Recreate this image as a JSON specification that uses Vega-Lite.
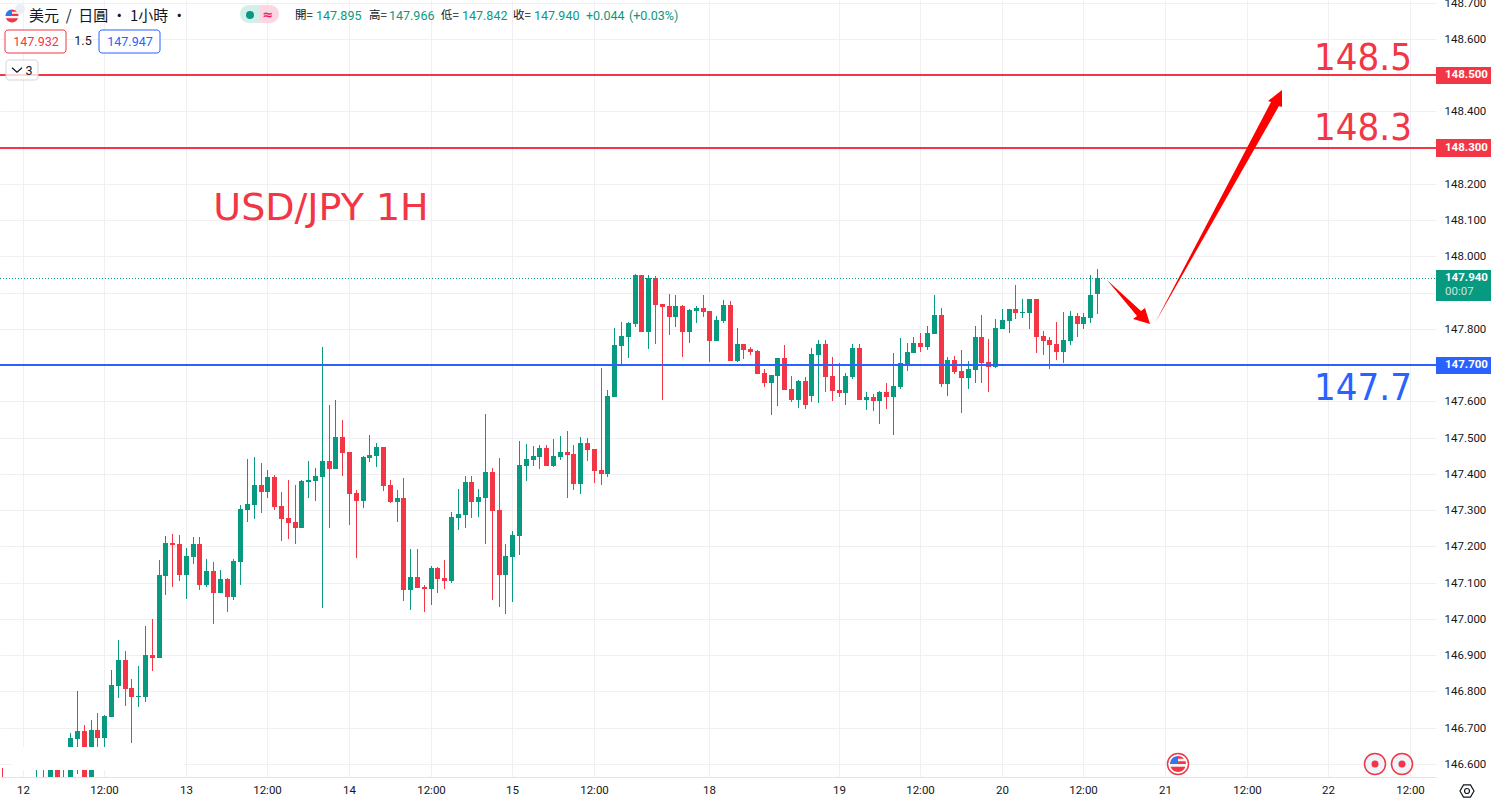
{
  "$schema": "https://vega.github.io/schema/vega-lite/v6.json",
  "description": "USD/JPY 1H candlesticks with resistance and support levels.",
  "width": 1436,
  "height": 777,
  "autosize": "none",
  "padding": {"left": 0, "top": 0, "right": 55, "bottom": 26},
  "background": "#ffffff",
  "config": {
    "view": {"stroke": null},
    "text": {"font": "Roboto"},
    "axisY": {
      "grid": true,
      "gridColor": "#f0f0f3",
      "ticks": false,
      "domain": false,
      "labelFont": "Roboto",
      "labelFontSize": 11.5,
      "labelColor": "#131722",
      "labelPadding": 8,
      "labelOverlap": false,
      "labelBound": false
    }
  },
  "datasets": {
    "candles": [
      {"b":0,"o":146.555,"h":146.588,"l":146.52,"c":146.54},
      {"b":5,"o":146.53,"h":146.59,"l":146.52,"c":146.54},
      {"b":6,"o":146.54,"h":146.59,"l":146.52,"c":146.53},
      {"b":7,"o":146.54,"h":146.62,"l":146.52,"c":146.6},
      {"b":8,"o":146.6,"h":146.62,"l":146.52,"c":146.54},
      {"b":9,"o":146.54,"h":146.59,"l":146.52,"c":146.53},
      {"b":10,"o":146.555,"h":146.685,"l":146.541,"c":146.671},
      {"b":11,"o":146.668,"h":146.8,"l":146.572,"c":146.69},
      {"b":12,"o":146.69,"h":146.707,"l":146.541,"c":146.555},
      {"b":13,"o":146.555,"h":146.721,"l":146.541,"c":146.693},
      {"b":14,"o":146.693,"h":146.74,"l":146.638,"c":146.671},
      {"b":15,"o":146.671,"h":146.735,"l":146.644,"c":146.732},
      {"b":16,"o":146.729,"h":146.859,"l":146.729,"c":146.817},
      {"b":17,"o":146.815,"h":146.941,"l":146.782,"c":146.886},
      {"b":18,"o":146.886,"h":146.911,"l":146.76,"c":146.806},
      {"b":19,"o":146.809,"h":146.834,"l":146.657,"c":146.784},
      {"b":20,"o":146.784,"h":146.87,"l":146.757,"c":146.787},
      {"b":21,"o":146.784,"h":146.98,"l":146.77,"c":146.9},
      {"b":22,"o":146.9,"h":147.0,"l":146.856,"c":146.892},
      {"b":23,"o":146.892,"h":147.162,"l":146.892,"c":147.121},
      {"b":24,"o":147.118,"h":147.228,"l":147.066,"c":147.209},
      {"b":25,"o":147.209,"h":147.234,"l":147.088,"c":147.203},
      {"b":26,"o":147.206,"h":147.231,"l":147.104,"c":147.121},
      {"b":27,"o":147.121,"h":147.195,"l":147.055,"c":147.173},
      {"b":28,"o":147.17,"h":147.226,"l":147.151,"c":147.206},
      {"b":29,"o":147.206,"h":147.226,"l":147.079,"c":147.093},
      {"b":30,"o":147.093,"h":147.165,"l":147.088,"c":147.132},
      {"b":31,"o":147.132,"h":147.157,"l":146.986,"c":147.071},
      {"b":32,"o":147.071,"h":147.134,"l":147.071,"c":147.11},
      {"b":33,"o":147.11,"h":147.112,"l":147.019,"c":147.06},
      {"b":34,"o":147.06,"h":147.165,"l":147.052,"c":147.159},
      {"b":35,"o":147.157,"h":147.314,"l":147.093,"c":147.303},
      {"b":36,"o":147.3,"h":147.441,"l":147.267,"c":147.317},
      {"b":37,"o":147.314,"h":147.446,"l":147.275,"c":147.369},
      {"b":38,"o":147.369,"h":147.43,"l":147.292,"c":147.35},
      {"b":39,"o":147.35,"h":147.41,"l":147.333,"c":147.391},
      {"b":40,"o":147.391,"h":147.397,"l":147.3,"c":147.308},
      {"b":41,"o":147.311,"h":147.35,"l":147.215,"c":147.275},
      {"b":42,"o":147.278,"h":147.383,"l":147.22,"c":147.264},
      {"b":43,"o":147.267,"h":147.369,"l":147.206,"c":147.25},
      {"b":44,"o":147.25,"h":147.383,"l":147.25,"c":147.38},
      {"b":45,"o":147.377,"h":147.435,"l":147.333,"c":147.383},
      {"b":46,"o":147.38,"h":147.416,"l":147.325,"c":147.394},
      {"b":47,"o":147.391,"h":147.75,"l":147.03,"c":147.435},
      {"b":48,"o":147.435,"h":147.59,"l":147.25,"c":147.413},
      {"b":49,"o":147.413,"h":147.603,"l":147.413,"c":147.501},
      {"b":50,"o":147.501,"h":147.548,"l":147.394,"c":147.457},
      {"b":51,"o":147.46,"h":147.46,"l":147.259,"c":147.344},
      {"b":52,"o":147.347,"h":147.355,"l":147.168,"c":147.325},
      {"b":53,"o":147.325,"h":147.449,"l":147.306,"c":147.446},
      {"b":54,"o":147.443,"h":147.507,"l":147.432,"c":147.452},
      {"b":55,"o":147.449,"h":147.485,"l":147.419,"c":147.474},
      {"b":56,"o":147.474,"h":147.474,"l":147.352,"c":147.366},
      {"b":57,"o":147.369,"h":147.383,"l":147.319,"c":147.322},
      {"b":58,"o":147.322,"h":147.355,"l":147.267,"c":147.333},
      {"b":59,"o":147.333,"h":147.388,"l":147.049,"c":147.079},
      {"b":60,"o":147.079,"h":147.193,"l":147.024,"c":147.115},
      {"b":61,"o":147.115,"h":147.193,"l":147.085,"c":147.085},
      {"b":62,"o":147.088,"h":147.093,"l":147.019,"c":147.082},
      {"b":63,"o":147.082,"h":147.146,"l":147.038,"c":147.14},
      {"b":64,"o":147.14,"h":147.143,"l":147.071,"c":147.11},
      {"b":65,"o":147.112,"h":147.162,"l":147.082,"c":147.104},
      {"b":66,"o":147.104,"h":147.295,"l":147.099,"c":147.281},
      {"b":67,"o":147.278,"h":147.358,"l":147.245,"c":147.289},
      {"b":68,"o":147.286,"h":147.394,"l":147.25,"c":147.377},
      {"b":69,"o":147.377,"h":147.394,"l":147.278,"c":147.322},
      {"b":70,"o":147.322,"h":147.358,"l":147.281,"c":147.336},
      {"b":71,"o":147.333,"h":147.565,"l":147.206,"c":147.405},
      {"b":72,"o":147.405,"h":147.416,"l":147.052,"c":147.297},
      {"b":73,"o":147.3,"h":147.443,"l":147.032,"c":147.121},
      {"b":74,"o":147.121,"h":147.206,"l":147.013,"c":147.173},
      {"b":75,"o":147.17,"h":147.242,"l":147.046,"c":147.231},
      {"b":76,"o":147.228,"h":147.49,"l":147.176,"c":147.424},
      {"b":77,"o":147.421,"h":147.482,"l":147.38,"c":147.441},
      {"b":78,"o":147.438,"h":147.477,"l":147.421,"c":147.449},
      {"b":79,"o":147.446,"h":147.479,"l":147.413,"c":147.471},
      {"b":80,"o":147.471,"h":147.479,"l":147.421,"c":147.421},
      {"b":81,"o":147.421,"h":147.496,"l":147.419,"c":147.449},
      {"b":82,"o":147.446,"h":147.504,"l":147.438,"c":147.46},
      {"b":83,"o":147.46,"h":147.518,"l":147.333,"c":147.452},
      {"b":84,"o":147.455,"h":147.479,"l":147.355,"c":147.372},
      {"b":85,"o":147.372,"h":147.501,"l":147.344,"c":147.485},
      {"b":86,"o":147.485,"h":147.499,"l":147.435,"c":147.466},
      {"b":87,"o":147.468,"h":147.468,"l":147.375,"c":147.408},
      {"b":88,"o":147.41,"h":147.692,"l":147.369,"c":147.399},
      {"b":89,"o":147.399,"h":147.631,"l":147.391,"c":147.615},
      {"b":90,"o":147.612,"h":147.802,"l":147.612,"c":147.755},
      {"b":91,"o":147.752,"h":147.819,"l":147.7,"c":147.78},
      {"b":92,"o":147.777,"h":147.819,"l":147.719,"c":147.816},
      {"b":93,"o":147.813,"h":147.951,"l":147.805,"c":147.948},
      {"b":94,"o":147.948,"h":147.948,"l":147.791,"c":147.791},
      {"b":95,"o":147.791,"h":147.948,"l":147.744,"c":147.94},
      {"b":96,"o":147.94,"h":147.946,"l":147.758,"c":147.866},
      {"b":97,"o":147.868,"h":147.868,"l":147.603,"c":147.86},
      {"b":98,"o":147.863,"h":147.896,"l":147.783,"c":147.832},
      {"b":99,"o":147.832,"h":147.893,"l":147.805,"c":147.863},
      {"b":100,"o":147.863,"h":147.866,"l":147.722,"c":147.791},
      {"b":101,"o":147.791,"h":147.855,"l":147.761,"c":147.852},
      {"b":102,"o":147.849,"h":147.863,"l":147.816,"c":147.857},
      {"b":103,"o":147.857,"h":147.893,"l":147.832,"c":147.846},
      {"b":104,"o":147.849,"h":147.849,"l":147.708,"c":147.766},
      {"b":105,"o":147.766,"h":147.835,"l":147.766,"c":147.824},
      {"b":106,"o":147.821,"h":147.879,"l":147.816,"c":147.866},
      {"b":107,"o":147.866,"h":147.877,"l":147.711,"c":147.711},
      {"b":108,"o":147.711,"h":147.802,"l":147.708,"c":147.758},
      {"b":109,"o":147.758,"h":147.758,"l":147.717,"c":147.741},
      {"b":110,"o":147.744,"h":147.75,"l":147.728,"c":147.736},
      {"b":111,"o":147.739,"h":147.741,"l":147.675,"c":147.675},
      {"b":112,"o":147.678,"h":147.689,"l":147.639,"c":147.65},
      {"b":113,"o":147.65,"h":147.672,"l":147.562,"c":147.672},
      {"b":114,"o":147.67,"h":147.719,"l":147.587,"c":147.719},
      {"b":115,"o":147.719,"h":147.755,"l":147.631,"c":147.631},
      {"b":116,"o":147.634,"h":147.67,"l":147.598,"c":147.603},
      {"b":117,"o":147.603,"h":147.659,"l":147.581,"c":147.656},
      {"b":118,"o":147.656,"h":147.667,"l":147.579,"c":147.59},
      {"b":119,"o":147.615,"h":147.747,"l":147.598,"c":147.73},
      {"b":120,"o":147.728,"h":147.769,"l":147.595,"c":147.758},
      {"b":121,"o":147.758,"h":147.769,"l":147.626,"c":147.667},
      {"b":122,"o":147.67,"h":147.722,"l":147.601,"c":147.628},
      {"b":123,"o":147.631,"h":147.706,"l":147.612,"c":147.623},
      {"b":124,"o":147.623,"h":147.678,"l":147.59,"c":147.67},
      {"b":125,"o":147.667,"h":147.758,"l":147.661,"c":147.747},
      {"b":126,"o":147.747,"h":147.758,"l":147.603,"c":147.603},
      {"b":127,"o":147.603,"h":147.626,"l":147.576,"c":147.612},
      {"b":128,"o":147.612,"h":147.62,"l":147.573,"c":147.601},
      {"b":129,"o":147.601,"h":147.628,"l":147.537,"c":147.626},
      {"b":130,"o":147.626,"h":147.65,"l":147.579,"c":147.612},
      {"b":131,"o":147.612,"h":147.733,"l":147.507,"c":147.642},
      {"b":132,"o":147.639,"h":147.775,"l":147.634,"c":147.706},
      {"b":133,"o":147.703,"h":147.761,"l":147.684,"c":147.736},
      {"b":134,"o":147.733,"h":147.777,"l":147.733,"c":147.761},
      {"b":135,"o":147.761,"h":147.788,"l":147.736,"c":147.75},
      {"b":136,"o":147.75,"h":147.808,"l":147.741,"c":147.788},
      {"b":137,"o":147.786,"h":147.893,"l":147.786,"c":147.838},
      {"b":138,"o":147.838,"h":147.857,"l":147.639,"c":147.648},
      {"b":139,"o":147.648,"h":147.722,"l":147.615,"c":147.714},
      {"b":140,"o":147.714,"h":147.725,"l":147.675,"c":147.681},
      {"b":141,"o":147.684,"h":147.741,"l":147.568,"c":147.664},
      {"b":142,"o":147.664,"h":147.711,"l":147.634,"c":147.689},
      {"b":143,"o":147.686,"h":147.808,"l":147.65,"c":147.777},
      {"b":144,"o":147.777,"h":147.838,"l":147.65,"c":147.706},
      {"b":145,"o":147.708,"h":147.772,"l":147.626,"c":147.695},
      {"b":146,"o":147.695,"h":147.827,"l":147.692,"c":147.802},
      {"b":147,"o":147.799,"h":147.855,"l":147.799,"c":147.824},
      {"b":148,"o":147.821,"h":147.855,"l":147.788,"c":147.855},
      {"b":149,"o":147.855,"h":147.921,"l":147.827,"c":147.844},
      {"b":150,"o":147.844,"h":147.882,"l":147.83,"c":147.846},
      {"b":151,"o":147.844,"h":147.882,"l":147.799,"c":147.882},
      {"b":152,"o":147.882,"h":147.882,"l":147.733,"c":147.777},
      {"b":153,"o":147.78,"h":147.794,"l":147.728,"c":147.766},
      {"b":154,"o":147.769,"h":147.777,"l":147.689,"c":147.755},
      {"b":155,"o":147.758,"h":147.819,"l":147.714,"c":147.736},
      {"b":156,"o":147.736,"h":147.846,"l":147.706,"c":147.769},
      {"b":157,"o":147.766,"h":147.849,"l":147.755,"c":147.835},
      {"b":158,"o":147.835,"h":147.844,"l":147.777,"c":147.813},
      {"b":159,"o":147.813,"h":147.844,"l":147.799,"c":147.832},
      {"b":160,"o":147.83,"h":147.948,"l":147.816,"c":147.893},
      {"b":161,"o":147.895,"h":147.966,"l":147.842,"c":147.94}
    ]
  },
  "data": {"name": "candles"},
  "encoding": {
    "x": {
      "field": "b",
      "type": "quantitative",
      "scale": {"domain": [-0.338, 210.84], "round": true, "padding": 0},
      "axis": {
        "title": null,
        "values": [3, 15, 27, 39, 51, 63, 75, 87, 104, 123, 135, 147, 159, 171, 183, 195, 207],
        "labelExpr": "({'3':'12','15':'12:00','27':'13','39':'12:00','51':'14','63':'12:00','75':'15','87':'12:00','104':'18','123':'19','135':'12:00','147':'20','159':'12:00','171':'21','183':'12:00','195':'22','207':'12:00'})[datum.value]",
        "grid": true,
        "gridColor": "#f0f0f3",
        "ticks": false,
        "domainColor": "#e0e3eb",
        "labelFont": "Roboto",
        "labelFontSize": 11.5,
        "labelColor": "#131722",
        "labelPadding": 7,
        "labelFlush": false,
        "labelOverlap": false
      }
    },
    "y": {
      "field": "p",
      "type": "quantitative",
      "scale": {"domain": [146.5636, 148.707], "round": true},
      "axis": {
        "title": null,
        "orient": "right",
        "values": [146.6, 146.7, 146.8, 146.9, 147.0, 147.1, 147.2, 147.3, 147.4, 147.5, 147.6, 147.7, 147.8, 147.9, 148.0, 148.1, 148.2, 148.3, 148.4, 148.5, 148.6, 148.7],
        "format": ".3f"
      }
    }
  },
  "layer": [
    {
      "mark": {"type": "rule", "strokeWidth": 1, "xOffset": 0.5, "clip": true},
      "encoding": {
        "y": {
          "field": "l",
          "type": "quantitative",
          "scale": {"domain": [146.5636, 148.707], "round": true},
          "axis": {
            "title": null,
            "orient": "right",
            "values": [146.6, 146.7, 146.8, 146.9, 147.0, 147.1, 147.2, 147.3, 147.4, 147.5, 147.6, 147.7, 147.8, 147.9, 148.0, 148.1, 148.2, 148.3, 148.4, 148.5, 148.6, 148.7],
            "format": ".3f"
          }
        },
        "y2": {"field": "h"},
        "color": {"condition": {"test": "datum.c >= datum.o", "value": "#089981"}, "value": "#F23645"}
      }
    },
    {
      "mark": {"type": "bar", "size": 5, "xOffset": 0.5, "clip": true},
      "encoding": {
        "y": {
          "field": "o",
          "type": "quantitative",
          "scale": {"domain": [146.5636, 148.707], "round": true},
          "axis": {
            "title": null,
            "orient": "right",
            "values": [146.6, 146.7, 146.8, 146.9, 147.0, 147.1, 147.2, 147.3, 147.4, 147.5, 147.6, 147.7, 147.8, 147.9, 148.0, 148.1, 148.2, 148.3, 148.4, 148.5, 148.6, 148.7],
            "format": ".3f"
          }
        },
        "y2": {"field": "c"},
        "color": {"condition": {"test": "datum.c >= datum.o", "value": "#089981"}, "value": "#F23645"}
      }
    },
    {
      "data": {"values": [{"b": 1.28, "b2": 26.72, "p": 146.646, "p2": 146.583}]},
      "mark": {"type": "rect", "color": "#ffffff"},
      "encoding": {"x2": {"field": "b2"}, "y2": {"field": "p2"}}
    },
    {
      "data": {"values": [
        {"level": "resistance", "p": 148.5, "b": -0.338, "b2": 210.84},
        {"level": "resistance", "p": 148.3, "b": -0.338, "b2": 210.84},
        {"level": "support", "p": 147.7, "b": -0.338, "b2": 210.84}
      ]},
      "mark": {"type": "rule", "strokeWidth": 2},
      "encoding": {
        "x2": {"field": "b2"},
        "color": {"field": "level", "type": "nominal", "legend": null, "scale": {"domain": ["resistance", "support", "last"], "range": ["#F23645", "#2962FF", "#089981"]}}
      }
    },
    {
      "data": {"values": [{"p": 147.94, "b": -0.338, "b2": 210.84}]},
      "mark": {"type": "rule", "strokeWidth": 1, "strokeDash": [1, 2], "color": "#089981", "yOffset": 0.5},
      "encoding": {"x2": {"field": "b2"}}
    },
    {
      "data": {"values": [
        {"arrow": "a", "i": 0, "b": 162.46, "p": 147.935},
        {"arrow": "a", "i": 1, "b": 167.47, "p": 147.848},
        {"arrow": "a", "i": 2, "b": 168.04, "p": 147.857},
        {"arrow": "a", "i": 3, "b": 168.85, "p": 147.812},
        {"arrow": "a", "i": 4, "b": 166.28, "p": 147.827},
        {"arrow": "a", "i": 5, "b": 166.85, "p": 147.836},
        {"arrow": "b", "i": 0, "b": 169.51, "p": 147.816},
        {"arrow": "b", "i": 1, "b": 186.59, "p": 148.426},
        {"arrow": "b", "i": 2, "b": 186.13, "p": 148.428},
        {"arrow": "b", "i": 3, "b": 188.19, "p": 148.459},
        {"arrow": "b", "i": 4, "b": 188.19, "p": 148.412},
        {"arrow": "b", "i": 5, "b": 187.74, "p": 148.414}
      ]},
      "mark": {"type": "line", "fill": "#ff0000", "stroke": null, "strokeWidth": 0},
      "encoding": {
        "detail": {"field": "arrow"},
        "order": {"field": "i", "type": "quantitative"}
      }
    },
    {
      "data": {"values": [
        {"level": "resistance", "label": "148.5", "b": 200.1, "p": 148.514},
        {"level": "resistance", "label": "148.3", "b": 200.1, "p": 148.321},
        {"level": "support", "label": "147.7", "b": 200.1, "p": 147.603}
      ]},
      "mark": {"type": "text", "font": "DejaVu Sans Condensed", "fontSize": 38, "align": "center", "baseline": "alphabetic"},
      "encoding": {
        "text": {"field": "label"},
        "color": {"field": "level", "type": "nominal", "legend": null}
      }
    },
    {
      "data": {"values": [{"level": "resistance", "label": "USD/JPY 1H", "b": 46.8, "p": 148.1}]},
      "mark": {"type": "text", "font": "DejaVu Sans", "fontSize": 38, "align": "center", "baseline": "alphabetic"},
      "encoding": {
        "text": {"field": "label"},
        "color": {"field": "level", "type": "nominal", "legend": null}
      }
    },
    {
      "data": {"values": [
        {"level": "resistance", "b": 210.84, "b2": 218.9, "p": 148.523, "p2": 148.475},
        {"level": "resistance", "b": 210.84, "b2": 218.9, "p": 148.323, "p2": 148.275},
        {"level": "support", "b": 210.84, "b2": 218.9, "p": 147.723, "p2": 147.675},
        {"level": "last", "b": 210.84, "b2": 218.9, "p": 147.962, "p2": 147.877}
      ]},
      "mark": {"type": "rect"},
      "encoding": {
        "x2": {"field": "b2"},
        "y2": {"field": "p2"},
        "color": {"field": "level", "type": "nominal", "legend": null}
      }
    },
    {
      "data": {"values": [
        {"label": "148.500", "b": 212.1, "p": 148.5},
        {"label": "148.300", "b": 212.1, "p": 148.3},
        {"label": "147.700", "b": 212.1, "p": 147.7},
        {"label": "147.940", "b": 212.1, "p": 147.94}
      ]},
      "mark": {"type": "text", "fontSize": 11.5, "fontWeight": "bold", "align": "left", "baseline": "middle", "color": "#ffffff"},
      "encoding": {"text": {"field": "label"}}
    },
    {
      "data": {"values": [{"label": "00:07", "b": 212.1, "p": 147.901}]},
      "mark": {"type": "text", "fontSize": 11.5, "align": "left", "baseline": "middle", "color": "#ffffff", "opacity": 0.75},
      "encoding": {"text": {"field": "label"}}
    },
    {
      "data": {"values": [{"label": "美元\u00a0\u00a0/\u00a0\u00a0日圓 · 1小時 ·", "b": 3.88, "p": 148.663}]},
      "mark": {"type": "text", "font": "Noto Sans CJK TC", "fontSize": 15, "align": "left", "baseline": "middle", "color": "#131722"},
      "encoding": {"text": {"field": "label"}}
    },
    {
      "data": {"values": [
        {"label": "開=", "b": 43.1, "p": 148.663},
        {"label": "高=", "b": 53.9, "p": 148.663},
        {"label": "低=", "b": 64.5, "p": 148.663},
        {"label": "收=", "b": 75.1, "p": 148.663}
      ]},
      "mark": {"type": "text", "font": "Noto Sans CJK TC", "fontSize": 11.5, "align": "left", "baseline": "middle", "color": "#131722"},
      "encoding": {"text": {"field": "label"}}
    },
    {
      "data": {"values": [
        {"label": "147.895", "b": 46.1, "p": 148.663},
        {"label": "147.966", "b": 56.9, "p": 148.663},
        {"label": "147.842", "b": 67.55, "p": 148.663},
        {"label": "147.940", "b": 78.2, "p": 148.663},
        {"label": "+0.044", "b": 85.8, "p": 148.663},
        {"label": "(+0.03%)", "b": 92.1, "p": 148.663}
      ]},
      "mark": {"type": "text", "fontSize": 12.5, "align": "left", "baseline": "middle", "color": "#089981"},
      "encoding": {"text": {"field": "label"}}
    },
    {
      "data": {"values": [{"b": 34.96, "b2": 37.83, "p": 148.693, "p2": 148.644}]},
      "mark": {"type": "rect", "color": "#d4efe9", "cornerRadiusTopLeft": 9, "cornerRadiusBottomLeft": 9},
      "encoding": {"x2": {"field": "b2"}, "y2": {"field": "p2"}}
    },
    {
      "data": {"values": [{"b": 37.83, "b2": 40.69, "p": 148.693, "p2": 148.644}]},
      "mark": {"type": "rect", "color": "#fcd7e2", "cornerRadiusTopRight": 9, "cornerRadiusBottomRight": 9},
      "encoding": {"x2": {"field": "b2"}, "y2": {"field": "p2"}}
    },
    {
      "data": {"values": [{"b": 36.43, "p": 148.667}]},
      "mark": {"type": "point", "shape": "circle", "filled": true, "size": 64, "opacity": 1, "color": "#089981"}
    },
    {
      "data": {"values": [{"label": "≈", "b": 39.07, "p": 148.667}]},
      "mark": {"type": "text", "font": "DejaVu Sans", "fontSize": 13, "fontWeight": "bold", "align": "center", "baseline": "middle", "color": "#e91e63"},
      "encoding": {"text": {"field": "label"}}
    },
    {
      "data": {"values": [{"b": 0.44, "b2": 9.32, "p": 148.624, "p2": 148.561}]},
      "mark": {"type": "rect", "fill": "#ffffff", "stroke": "#F23645", "strokeWidth": 1, "cornerRadius": 3},
      "encoding": {"x2": {"field": "b2"}, "y2": {"field": "p2"}}
    },
    {
      "data": {"values": [{"b": 14.26, "b2": 23.15, "p": 148.624, "p2": 148.561}]},
      "mark": {"type": "rect", "fill": "#ffffff", "stroke": "#2962FF", "strokeWidth": 1, "cornerRadius": 3},
      "encoding": {"x2": {"field": "b2"}, "y2": {"field": "p2"}}
    },
    {
      "data": {"values": [{"b": 0.59, "b2": 5.21, "p": 148.541, "p2": 148.486}]},
      "mark": {"type": "rect", "fill": "#ffffff", "fillOpacity": 0.8, "stroke": "#d1d4dc", "strokeWidth": 1, "cornerRadius": 3},
      "encoding": {"x2": {"field": "b2"}, "y2": {"field": "p2"}}
    },
    {
      "data": {"values": [{"label": "147.932", "b": 4.96, "p": 148.591}]},
      "mark": {"type": "text", "fontSize": 12.5, "align": "center", "baseline": "middle", "color": "#F23645"},
      "encoding": {"text": {"field": "label"}}
    },
    {
      "data": {"values": [{"label": "147.947", "b": 18.71, "p": 148.591}]},
      "mark": {"type": "text", "fontSize": 12.5, "align": "center", "baseline": "middle", "color": "#2962FF"},
      "encoding": {"text": {"field": "label"}}
    },
    {
      "data": {"values": [
        {"label": "1.5", "b": 11.87, "p": 148.594},
        {"label": "3", "b": 3.93, "p": 148.511}
      ]},
      "mark": {"type": "text", "fontSize": 12.5, "align": "center", "baseline": "middle", "color": "#131722"},
      "encoding": {"text": {"field": "label"}}
    },
    {
      "data": {"values": [{"b": 2.16, "p": 148.514}]},
      "mark": {"type": "point", "shape": "M-1 -0.45 L0 0.45 L1 -0.45", "size": 100, "filled": false, "opacity": 1, "color": "#131722", "strokeWidth": 1.3}
    },
    {
      "data": {"values": [{"b": 2.6, "p": 148.682}]},
      "mark": {"type": "point", "shape": "circle", "filled": true, "size": 100, "opacity": 1, "color": "#eceef4"}
    },
    {
      "data": {"values": [{"b": 172.9, "p": 146.599}]},
      "mark": {"type": "point", "shape": "circle", "filled": true, "size": 441, "opacity": 1, "fill": "#ffffff", "stroke": "#F23645", "strokeWidth": 1.5}
    },
    {
      "data": {"values": [{"b": 201.9, "p": 146.599}, {"b": 205.8, "p": 146.599}]},
      "mark": {"type": "point", "shape": "circle", "filled": true, "size": 441, "opacity": 1, "fill": "#f0f3fa", "stroke": "#F23645", "strokeWidth": 1.5}
    },
    {
      "data": {"values": [{"b": 201.9, "p": 146.599}, {"b": 205.8, "p": 146.599}]},
      "mark": {"type": "point", "shape": "circle", "filled": true, "size": 49, "opacity": 1, "color": "#F23645"}
    },
    {
      "data": {"values": [
        {"icon": "header", "b": 1.43, "p": 148.663},
        {"icon": "calendar", "b": 172.9, "p": 146.599}
      ]},
      "layer": [
        {"mark": {"type": "point", "shape": "circle", "filled": true, "opacity": 1, "color": "#f4f4f6"}},
        {"mark": {"type": "point", "shape": "M-1 0A1 1 0 0 1 0 -1L0 0Z", "filled": true, "opacity": 1, "color": "#3179e8"}},
        {"mark": {"type": "point", "shape": "M0 -1A1 1 0 0 1 0.75 -0.66L0 -0.66ZM0 -0.33L0.95 -0.33L1 0L0 0ZM-0.95 0.33L0.95 0.33L0.75 0.66A1 1 0 0 1 -0.75 0.66Z", "filled": true, "opacity": 1, "color": "#F23645"}}
      ],
      "encoding": {
        "size": {"field": "icon", "type": "ordinal", "legend": null, "scale": {"domain": ["header", "calendar"], "range": [169, 256]}}
      }
    },
    {
      "data": {"values": [{"b": 215.4, "p": 146.525}]},
      "mark": {"type": "point", "shape": "M-1 0L-0.5 -0.87L0.5 -0.87L1 0L0.5 0.87L-0.5 0.87Z", "size": 196, "filled": false, "opacity": 1, "color": "#131722", "strokeWidth": 1.2}
    },
    {
      "data": {"values": [{"b": 215.4, "p": 146.525}]},
      "mark": {"type": "point", "shape": "circle", "size": 25, "filled": false, "opacity": 1, "color": "#131722", "strokeWidth": 1.2}
    }
  ]
}
